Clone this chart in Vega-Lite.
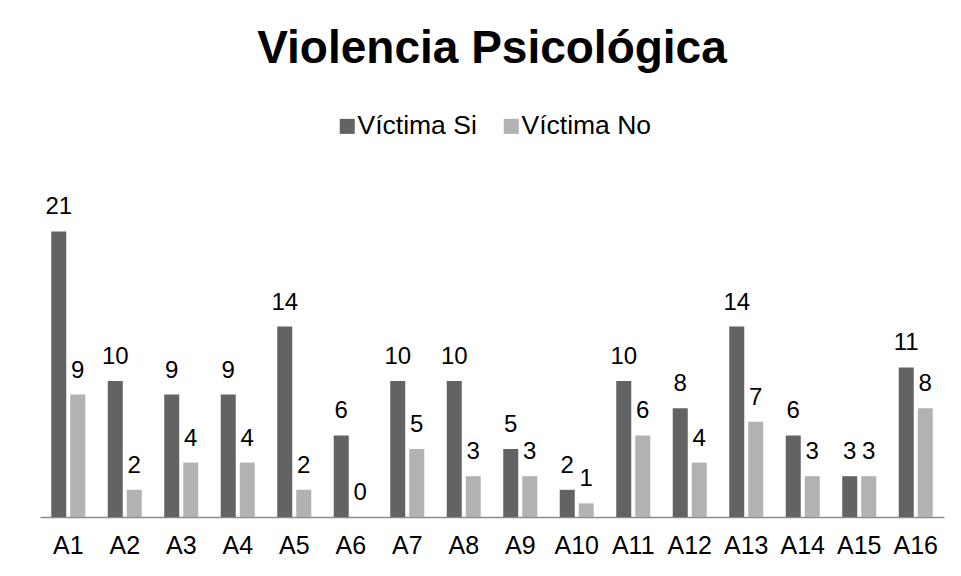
{
  "$schema": "https://vega.github.io/schema/vega-lite/v6.json",
  "width": 904,
  "height": 340,
  "autosize": {"type": "none"},
  "padding": {"left": 40, "top": 177, "right": 17, "bottom": 59},
  "background": "white",
  "config": {
    "font": "Liberation Sans",
    "view": {"stroke": null}
  },
  "title": {
    "text": "Violencia Psicológica",
    "fontSize": 46,
    "fontWeight": "bold",
    "color": "#000000",
    "anchor": "middle",
    "frame": "group",
    "offset": 40
  },
  "data": {
    "values": [
      {"grupo": "A1", "serie": "Víctima Si", "valor": 21},
      {"grupo": "A1", "serie": "Víctima No", "valor": 9},
      {"grupo": "A2", "serie": "Víctima Si", "valor": 10},
      {"grupo": "A2", "serie": "Víctima No", "valor": 2},
      {"grupo": "A3", "serie": "Víctima Si", "valor": 9},
      {"grupo": "A3", "serie": "Víctima No", "valor": 4},
      {"grupo": "A4", "serie": "Víctima Si", "valor": 9},
      {"grupo": "A4", "serie": "Víctima No", "valor": 4},
      {"grupo": "A5", "serie": "Víctima Si", "valor": 14},
      {"grupo": "A5", "serie": "Víctima No", "valor": 2},
      {"grupo": "A6", "serie": "Víctima Si", "valor": 6},
      {"grupo": "A6", "serie": "Víctima No", "valor": 0},
      {"grupo": "A7", "serie": "Víctima Si", "valor": 10},
      {"grupo": "A7", "serie": "Víctima No", "valor": 5},
      {"grupo": "A8", "serie": "Víctima Si", "valor": 10},
      {"grupo": "A8", "serie": "Víctima No", "valor": 3},
      {"grupo": "A9", "serie": "Víctima Si", "valor": 5},
      {"grupo": "A9", "serie": "Víctima No", "valor": 3},
      {"grupo": "A10", "serie": "Víctima Si", "valor": 2},
      {"grupo": "A10", "serie": "Víctima No", "valor": 1},
      {"grupo": "A11", "serie": "Víctima Si", "valor": 10},
      {"grupo": "A11", "serie": "Víctima No", "valor": 6},
      {"grupo": "A12", "serie": "Víctima Si", "valor": 8},
      {"grupo": "A12", "serie": "Víctima No", "valor": 4},
      {"grupo": "A13", "serie": "Víctima Si", "valor": 14},
      {"grupo": "A13", "serie": "Víctima No", "valor": 7},
      {"grupo": "A14", "serie": "Víctima Si", "valor": 6},
      {"grupo": "A14", "serie": "Víctima No", "valor": 3},
      {"grupo": "A15", "serie": "Víctima Si", "valor": 3},
      {"grupo": "A15", "serie": "Víctima No", "valor": 3},
      {"grupo": "A16", "serie": "Víctima Si", "valor": 11},
      {"grupo": "A16", "serie": "Víctima No", "valor": 8}
    ]
  },
  "encoding": {
    "x": {
      "field": "grupo",
      "type": "nominal",
      "sort": null,
      "scale": {"paddingInner": 0.398, "paddingOuter": 0.199},
      "axis": {
        "title": null,
        "labelAngle": 0,
        "labelFontSize": 25,
        "labelColor": "#000000",
        "labelPadding": 16,
        "ticks": false,
        "domainColor": "#8c8c8c",
        "domainWidth": 1.5,
        "grid": false
      }
    },
    "xOffset": {
      "field": "serie",
      "type": "nominal",
      "sort": ["Víctima Si", "Víctima No"],
      "scale": {"paddingInner": 0.2105, "paddingOuter": 0}
    },
    "y": {
      "field": "valor",
      "type": "quantitative",
      "scale": {"domain": [0, 25], "nice": false},
      "axis": null
    }
  },
  "layer": [
    {
      "mark": {"type": "bar"},
      "encoding": {
        "color": {
          "field": "serie",
          "type": "nominal",
          "sort": ["Víctima Si", "Víctima No"],
          "scale": {"domain": ["Víctima Si", "Víctima No"], "range": ["#636363", "#b2b2b2"]},
          "legend": {
            "title": null,
            "orient": "none",
            "direction": "horizontal",
            "legendX": 294,
            "legendY": -64,
            "symbolType": "square",
            "symbolSize": 225,
            "symbolStrokeWidth": 0,
            "labelFontSize": 26.5,
            "labelColor": "#000000",
            "labelOffset": -3,
            "columnPadding": 21,
            "padding": 0
          }
        }
      }
    },
    {
      "mark": {"type": "text", "fontSize": 24, "color": "#000000", "baseline": "alphabetic", "dy": -17},
      "encoding": {
        "text": {"field": "valor", "type": "quantitative"}
      }
    }
  ]
}
